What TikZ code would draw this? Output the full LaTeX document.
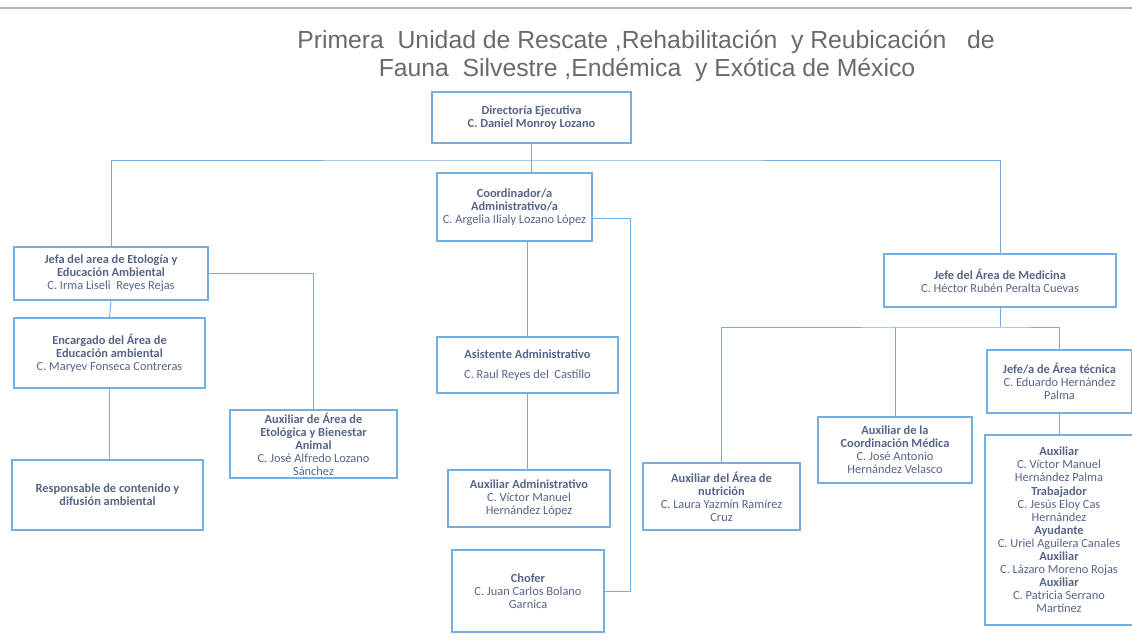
\documentclass[tikz,border=0pt]{standalone}
\usepackage{fontspec}
\setmainfont{Carlito}
\newfontfamily\titlefont{Liberation Sans}
\usetikzlibrary{positioning}
\definecolor{boxblue}{RGB}{115,175,225}
\definecolor{textblue}{RGB}{85,100,135}
\definecolor{titlegray}{RGB}{105,105,110}
\tikzstyle{cargo} = [rectangle, draw=boxblue, line width=1pt, text=textblue, align=center, font=\fontsize{8.8}{9.3}\selectfont, inner sep=1pt]
\tikzstyle{titulo} = [text=titlegray, font=\titlefont\fontsize{17.6}{20}\selectfont]
\tikzstyle{linea} = [draw=boxblue, line width=0.7pt]

\begin{document}
\begin{tikzpicture}[x=0.025cm, y=-0.025cm]
    \useasboundingbox (0,0) rectangle (1132,639);
    \draw [gray!60, line width=0.8pt] (0,8) -- (1132,8);

    \node (tit1) [titulo] at (646,42) {Primera\ \ Unidad de Rescate ,Rehabilitación\ \ y Reubicación\ \ \ de};
    \node (tit2) [titulo] at (647,70) {Fauna\ \ Silvestre ,Endémica\ \ y Exótica de México};

    % direccion
    \node (dir) [cargo, minimum width=4.98cm, minimum height=1.28cm] at (531.5,117.5)
        {\textbf{Directoría Ejecutiva}\\ \textbf{C. Daniel Monroy Lozano}};
    \node (coord) [cargo, minimum width=3.88cm, minimum height=1.70cm] at (514.5,207)
        {\textbf{Coordinador/a}\\ \textbf{Administrativo/a}\\ C. Argelia Ilialy Lozano López};

    % etologia
    \node (jefaeto) [cargo, minimum width=4.85cm, minimum height=1.33cm] at (111,273.5)
        {\textbf{Jefa del area de Etología y}\\ \textbf{Educación Ambiental}\\ C. Irma Liseli\ \ Reyes Rejas};
    \node (encarg) [cargo, minimum width=4.78cm, minimum height=1.75cm] at (109.5,353)
        {\textbf{Encargado del Área de}\\ \textbf{Educación ambiental}\\ C. Maryev Fonseca Contreras};
    \node (resp) [cargo, minimum width=4.78cm, minimum height=1.75cm] at (107.5,495)
        {\textbf{Responsable de contenido y}\\ \textbf{difusión ambiental}};
    \node (auxeto) [cargo, minimum width=4.18cm, minimum height=1.70cm] at (313.5,444)
        {\textbf{Auxiliar de Área de}\\ \textbf{Etológica y Bienestar}\\ \textbf{Animal}\\ C. José Alfredo Lozano\\ Sánchez};

    % administracion
    \node (asist) [cargo, minimum width=4.53cm, minimum height=1.40cm] at (527.5,365)
        {\textbf{Asistente Administrativo}\\[5pt] C. Raul Reyes del\ \ Castillo};
    \node (auxadm) [cargo, minimum width=4.05cm, minimum height=1.43cm] at (529,498.5)
        {\textbf{Auxiliar Administrativo}\\ C. Víctor Manuel\\ Hernández López};
    \node (chofer) [cargo, minimum width=3.80cm, minimum height=2.05cm] at (528,591)
        {\textbf{Chofer}\\ C. Juan Carlos Bolano\\ Garnica};

    % medicina
    \node (jefemed) [cargo, minimum width=5.80cm, minimum height=1.33cm] at (1000,280.5)
        {\textbf{Jefe del Área de Medicina}\\ C. Héctor Rubén Peralta Cuevas};
    \node (jefetec) [cargo, minimum width=3.63cm, minimum height=1.58cm] at (1059.5,381.5)
        {\textbf{Jefe/a de Área técnica}\\ C. Eduardo Hernández\\ Palma};
    \node (auxcoord) [cargo, minimum width=3.85cm, minimum height=1.65cm] at (895,450)
        {\textbf{Auxiliar de la}\\ \textbf{Coordinación Médica}\\ C. José Antonio\\ Hernández Velasco};
    \node (auxnut) [cargo, minimum width=3.93cm, minimum height=1.68cm] at (721.5,496.5)
        {\textbf{Auxiliar del Área de}\\ \textbf{nutrición}\\ C. Laura Yazmín Ramírez\\ Cruz};
    \node (grupo) [cargo, minimum width=3.70cm, minimum height=4.75cm] at (1059,530)
        {\textbf{Auxiliar}\\ C. Víctor Manuel\\ Hernández Palma\\
         \textbf{Trabajador}\\ C. Jesús Eloy Cas\\ Hernández\\
         \textbf{Ayudante}\\ C. Uriel Aguilera Canales\\
         \textbf{Auxiliar}\\ C. Lázaro Moreno Rojas\\
         \textbf{Auxiliar}\\ C. Patricia Serrano\\ Martínez};

    \coordinate (bus) at (531,160);
    \coordinate (busmed) at (1000,327);
    \coordinate (riel) at (630,218);

    \draw [linea] (dir.south) -- (dir.south |- coord.north);
    \draw [linea] (jefaeto.north) |- (bus) -| (jefemed.north);
    \draw [linea] (asist.north) -- (asist.north |- coord.south);
    \draw [linea] (coord.east |- riel) -- (riel) |- (chofer.east);
    \draw [linea] (asist.south) -- (asist.south |- auxadm.north);

    \draw [linea] (jefaeto.east) -| (auxeto.north);
    \draw [linea] (jefaeto.south) -- (encarg.north);
    \draw [linea] (encarg.south) -- (encarg.south |- resp.north);

    \draw [linea] (jefemed.south) -- (busmed);
    \draw [linea] (auxnut.north) |- (busmed) -| (jefetec.north);
    \draw [linea] (auxcoord.north) -- (auxcoord.north |- busmed);
    \draw [linea] (jefetec.south) -- (jefetec.south |- grupo.north);

\end{tikzpicture}
\end{document}
